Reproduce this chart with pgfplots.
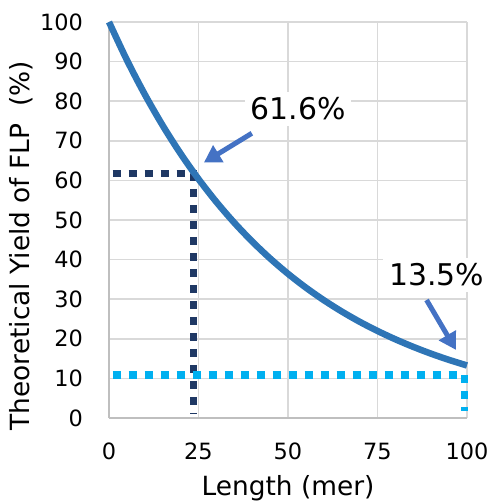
\documentclass[border=0pt]{standalone}
\usepackage{pgfplots}
\pgfplotsset{compat=1.18}
\usepackage{fontspec}
\setmainfont{DejaVu Sans}
\usetikzlibrary{arrows.meta}
\definecolor{curveblue}{HTML}{2E75B6}
\definecolor{navy}{HTML}{1F3864}
\definecolor{lightblue}{HTML}{00B0F0}
\definecolor{arrowblue}{HTML}{4472C4}
\definecolor{gridgray}{HTML}{D9D9D9}
\definecolor{axisgray}{HTML}{BFBFBF}
\begin{document}
\begin{tikzpicture}
\useasboundingbox (-109bp,-83bp) rectangle (380bp,418bp);
\begin{axis}[
  at={(0,0)}, anchor=south west,
  scale only axis, width=358bp, height=396bp,
  xmin=0, xmax=100, ymin=0, ymax=100,
  xtick={0,25,50,75,100}, ytick={0,10,...,100},
  axis x line*=bottom, axis y line*=left,
  axis line style={draw=axisgray, line width=1.8bp, -},
  major tick length=0pt,
  grid=major,
  major grid style={draw=gridgray, line width=1.6bp},
  clip=false,
  /pgf/number format/assume math mode=true,
  xticklabel style={font=\fontsize{22.5}{24}\selectfont, anchor=north, inner sep=0pt, yshift=-25bp},
  yticklabel style={font=\fontsize{22.5}{24}\selectfont, anchor=east, inner sep=0pt, xshift=-26bp},
  xlabel={Length (mer)},
  ylabel={Theoretical Yield of FLP~~(\%)},
  xlabel style={font=\fontsize{26.5}{28}\selectfont, at={(axis description cs:0.5,-0.178)}, anchor=center, inner sep=0pt},
  ylabel style={font=\fontsize{26.5}{28}\selectfont, at={(axis description cs:-0.245,0.435)}, anchor=center, inner sep=0pt},
]
% dotted guide lines
\addplot[navy, line width=7.5bp, dash pattern=on 8bp off 8bp] coordinates {(1,61.7) (23.6,61.7) (23.6,1.2)};
\addplot[lightblue, line width=7.5bp, dash pattern=on 8bp off 8bp] coordinates {(1,10.9) (99.3,10.9) (99.3,1.8)};
% yield curve
\addplot[curveblue, line width=6.5bp, smooth] coordinates {
(0,100) (5,90.39) (10,81.71) (15,73.86) (20,66.76) (25,60.35) (30,54.55)
(35,49.31) (40,44.57) (45,40.29) (50,36.42) (55,32.92) (60,29.76) (65,26.90)
(70,24.31) (75,21.98) (80,19.87) (85,17.96) (90,16.23) (95,14.67) (100,13.26)};
% annotations
\node[fill=white, inner sep=6bp, font=\fontsize{30}{32}\selectfont] at (axis cs:52.8,78) {61.6\%};
\node[fill=white, inner sep=6bp, font=\fontsize{30}{32}\selectfont] at (axis cs:91.6,36.1) {13.5\%};
\draw[arrowblue, line width=5bp, -{Triangle[length=17bp,width=19bp]}] (axis cs:39.9,71.9) -- (axis cs:26.5,64.5);
\draw[arrowblue, line width=5bp, -{Triangle[length=17bp,width=19bp]}] (axis cs:88.7,29.8) -- (axis cs:96.9,17.2);
\end{axis}
\end{tikzpicture}
\end{document}
